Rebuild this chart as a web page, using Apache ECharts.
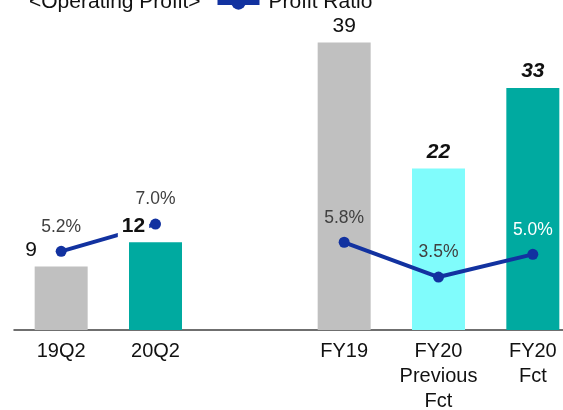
<!DOCTYPE html>
<html>
<head>
<meta charset="utf-8">
<script src="https://cdn.jsdelivr.net/npm/echarts@6/dist/echarts.min.js"></script>
<style>
  html, body { margin: 0; padding: 0; background: #fff; }
  #main { width: 563px; height: 410px; }
</style>
</head>
<body>
<div id="main"></div>
<script>
// categories (empty slot separates quarters from full years)
var categories = ['19Q2', '20Q2', '', 'FY19', 'FY20\nPrevious\nFct', 'FY20\nFct'];
// operating profit (bar heights, labels rounded)
var profit = [8.6, 11.9, null, 39, 21.9, 32.8];
// profit ratio, %
var ratio = [5.2, 7.0, null, 5.8, 3.5, 5.0];

var barColors = ['#c0c0c0', '#00aaa0', '#fff', '#c0c0c0', '#80fcfc', '#00aaa0'];
var labelOffset = [[-30, 0], [-22, 0], [0, 0], [0, 0], [0, 0], [0, 0]];
var labelWeight = ['normal', 'bold', 'normal', 'normal', 'bold', 'bold'];
var labelStyle = ['normal', 'normal', 'normal', 'normal', 'italic', 'italic'];
var ratioColor = ['#404040', '#404040', '#404040', '#404040', '#404040', '#ffffff'];

var FONT = '"Liberation Sans", Arial, sans-serif';

var myChart = echarts.init(document.getElementById('main'));

var barData = profit.map(function (v, i) {
    return { value: v, itemStyle: { color: barColors[i] } };
});
var labelData = profit.map(function (v, i) {
    return {
        value: v,
        label: {
            offset: labelOffset[i],
            fontWeight: labelWeight[i],
            fontStyle: labelStyle[i]
        }
    };
});
var ratioData = ratio.map(function (v, i) {
    return { value: v, label: { color: ratioColor[i] } };
});

myChart.setOption({
    animation: false,
    title: {
        text: '<Operating Profit>',
        left: 24,
        top: -13,
        textStyle: { fontFamily: FONT, fontSize: 21, fontWeight: 'normal', color: '#111' }
    },
    legend: {
        data: ['Profit Ratio'],
        left: 210,
        top: -13,
        itemWidth: 42,
        itemHeight: 18,
        lineStyle: { width: 5 },
        textStyle: { fontFamily: FONT, fontSize: 21, color: '#111', padding: [0, 0, 0, 4] }
    },
    grid: {
        left: 14,
        width: 566,
        top: 35,
        height: 295,
        containLabel: false,
        outerBoundsMode: 'none'
    },
    xAxis: {
        type: 'category',
        data: categories,
        axisLine: { show: true, lineStyle: { color: '#404040', width: 1.5 } },
        axisTick: { show: false },
        axisLabel: {
            interval: 0,
            margin: 9,
            fontFamily: FONT,
            fontSize: 20,
            lineHeight: 25,
            color: '#111'
        }
    },
    yAxis: [
        { type: 'value', min: 0, max: 40, show: false },
        { type: 'value', min: 0, max: 19.5, show: false }
    ],
    series: [
        {
            name: 'Operating Profit',
            type: 'bar',
            barWidth: 53,
            barGap: '-100%',
            data: barData,
            z: 2
        },
        {
            name: 'Profit Ratio',
            type: 'line',
            yAxisIndex: 1,
            data: ratioData,
            connectNulls: false,
            symbol: 'circle',
            symbolSize: 11,
            itemStyle: { color: '#1232a0' },
            lineStyle: { color: '#1232a0', width: 4 },
            label: {
                show: true,
                position: 'top',
                distance: 10,
                fontFamily: FONT,
                fontSize: 17.5,
                formatter: function (p) { return p.value.toFixed(1) + '%'; }
            },
            z: 3
        },
        {
            name: 'labels',
            type: 'bar',
            barWidth: 53,
            barGap: '-100%',
            data: labelData,
            itemStyle: { color: 'rgba(0,0,0,0)' },
            label: {
                show: true,
                position: 'top',
                distance: 5,
                padding: [1, 4],
                backgroundColor: '#fff',
                fontFamily: FONT,
                fontSize: 21,
                color: '#111',
                formatter: function (p) { return Math.round(p.value); }
            },
            silent: true,
            z: 4
        }
    ]
});
</script>
</body>
</html>
